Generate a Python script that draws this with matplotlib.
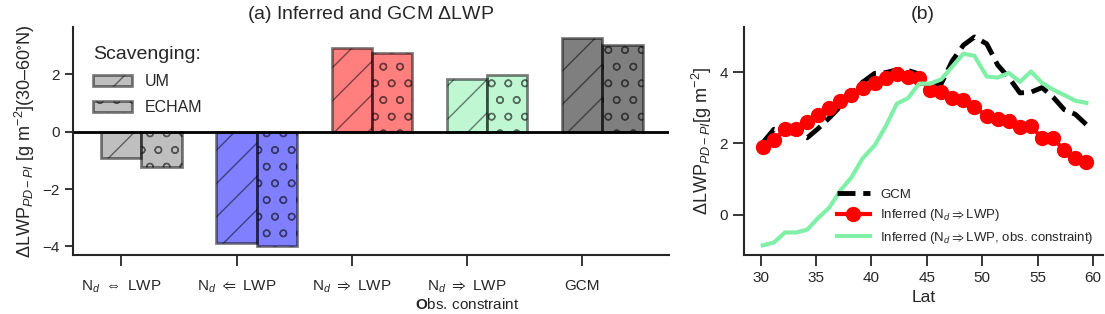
import numpy as np
import matplotlib
matplotlib.use('Agg')
import matplotlib.pyplot as plt
from matplotlib.patches import Patch
from matplotlib.colors import to_rgba

plt.rcParams['font.family'] = ['Liberation Sans', 'DejaVu Sans']
plt.rcParams['mathtext.fontset'] = 'custom'
plt.rcParams['mathtext.rm'] = 'Liberation Sans'
plt.rcParams['mathtext.it'] = 'Liberation Sans:italic'
plt.rcParams['mathtext.bf'] = 'Liberation Sans:bold'
plt.rcParams['mathtext.fallback'] = 'stixsans'
plt.rcParams['hatch.linewidth'] = 1.0
plt.rcParams['text.color'] = '#262626'
plt.rcParams['axes.labelcolor'] = '#262626'
plt.rcParams['xtick.color'] = '#262626'
plt.rcParams['ytick.color'] = '#262626'

# (a) datos de barras
categorias = [r'N$_d$ $\Leftrightarrow$ LWP', r'N$_d$ $\Leftarrow$ LWP', r'N$_d$ $\Rightarrow$ LWP',
              'N$_d$ $\\Rightarrow$ LWP\n$\\mathbf{O}$bs. constraint', 'GCM']
lwp_um = [-0.92, -3.88, 2.93, 1.85, 3.25]
lwp_echam = [-1.22, -3.97, 2.73, 1.96, 3.02]
colores = ['grey', 'blue', 'red', '#80f0a8', 'black']

# (b) datos por latitud
lat = [30.2, 31.2, 32.2, 33.2, 34.2, 35.2, 36.2, 37.2, 38.2, 39.2,
       40.3, 41.3, 42.3, 43.3, 44.3, 45.3, 46.3, 47.3, 48.3, 49.3,
       50.4, 51.4, 52.4, 53.4, 54.4, 55.4, 56.4, 57.4, 58.4, 59.4]
gcm = [2.02, 2.40, 2.32, 2.28, 2.16, 2.42, 2.72, 3.04, 3.37, 3.72,
       3.97, 3.99, 4.07, 4.05, 3.95, 3.67, 3.68, 4.32, 4.76, 4.99,
       4.80, 4.20, 3.85, 3.42, 3.44, 3.57, 3.30, 2.95, 2.82, 2.53]
inferido = [1.90, 2.10, 2.40, 2.40, 2.61, 2.81, 3.00, 3.20, 3.37, 3.55,
            3.69, 3.85, 3.94, 3.88, 3.83, 3.51, 3.45, 3.27, 3.23, 3.03,
            2.77, 2.68, 2.63, 2.46, 2.50, 2.14, 2.14, 1.81, 1.58, 1.47]
inferido_obs = [-0.86, -0.78, -0.50, -0.50, -0.42, -0.09, 0.20, 0.68, 1.05, 1.58,
                1.95, 2.49, 3.12, 3.27, 3.68, 3.68, 3.80, 4.16, 4.52, 4.46,
                3.88, 3.85, 3.98, 3.73, 4.02, 3.70, 3.51, 3.36, 3.20, 3.14]

fig = plt.figure(figsize=(11.05, 3.14), dpi=100)
ax1 = fig.add_axes([0.066, 0.188, 0.539, 0.726])
ax2 = fig.add_axes([0.673, 0.188, 0.325, 0.726])

# Panel (a)
x = np.arange(len(categorias))
ancho = 0.35
borde = (0, 0, 0, 0.5)
for i in range(len(categorias)):
    ax1.bar(x[i], lwp_um[i], ancho, color=to_rgba(colores[i], 0.5),
            edgecolor=borde, linewidth=2, hatch='/')
    ax1.bar(x[i] + ancho, lwp_echam[i], ancho, color=to_rgba(colores[i], 0.5),
            edgecolor=borde, linewidth=2, hatch='o')
ax1.axhline(0, color='black', lw=2)
ax1.set_xlim(-0.42, 4.75)
ax1.set_ylim(-4.3, 3.65)
ax1.set_yticks([-4, -2, 0, 2])
ax1.set_xticks(x)
ax1.set_xticklabels(categorias, fontsize=11)
ax1.tick_params(axis='x', length=8, width=1.3, pad=9)
ax1.tick_params(axis='y', length=6, width=1.3, labelsize=11)
ax1.set_ylabel(r'$\Delta$LWP$_{PD-PI}$ [g m$^{-2}$](30–60$^{\circ}$N)', fontsize=13, labelpad=4)
ax1.set_title(r'(a) Inferred and GCM $\Delta$LWP', fontsize=14)

manejadores = [Patch(facecolor=to_rgba('grey', 0.5), edgecolor=borde, linewidth=2, hatch='/'),
               Patch(facecolor=to_rgba('grey', 0.5), edgecolor=borde, linewidth=2, hatch='o')]
leg = ax1.legend(manejadores, ['UM', 'ECHAM'], title='Scavenging:', loc='upper left',
                 frameon=False, fontsize=11.5, title_fontsize=14, handlelength=2.4,
                 labelspacing=0.7, alignment='left', bbox_to_anchor=(0.01, 0.98))

# Panel (b)
ax2.plot(lat, gcm, '--', color='black', lw=3.5, label='GCM')
ax2.plot(lat, inferido, '-o', color='red', lw=3, ms=10, label=r'Inferred (N$_d$$\Rightarrow$LWP)')
ax2.plot(lat, inferido_obs, '-', color='#80f0a8', lw=3,
         label=r'Inferred (N$_d$$\Rightarrow$LWP, obs. constraint)')
ax2.set_xlim(28.47, 60.88)
ax2.set_ylim(-1.13, 5.27)
ax2.set_yticks([0, 2, 4])
ax2.set_xticks([30, 35, 40, 45, 50, 55, 60])
ax2.tick_params(length=8, width=1.3, labelsize=11)
ax2.set_xlabel('Lat', fontsize=12.5)
ax2.set_ylabel(r'$\Delta$LWP$_{PD-PI}$[g m$^{-2}$]', fontsize=13)
ax2.set_title('(b)', fontsize=14)
ax2.legend(loc='lower right', frameon=False, fontsize=9.5, handlelength=2.5,
           borderaxespad=0.3)

for ax in (ax1, ax2):
    ax.spines['top'].set_visible(False)
    ax.spines['right'].set_visible(False)
    ax.spines['left'].set_linewidth(1.5)
    ax.spines['bottom'].set_linewidth(1.5)
    ax.spines['left'].set_color('#262626')
    ax.spines['bottom'].set_color('#262626')

fig.savefig('out.png', dpi=100)
